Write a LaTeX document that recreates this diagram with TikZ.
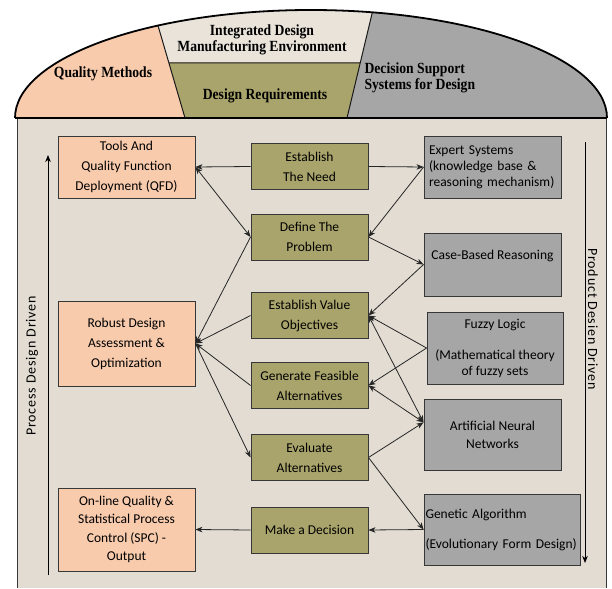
\documentclass[tikz,border=0pt]{standalone}
\usepackage{fontspec}
\setmainfont{Carlito}
\newfontfamily\domefont[FakeStretch=0.88]{Liberation Serif}
\newfontfamily\sidefont[LetterSpace=6]{Carlito}
\usepackage{xcolor}
\usetikzlibrary{arrows.meta}

\definecolor{qpeach}{RGB}{248,203,173}
\definecolor{dolive}{RGB}{169,164,107}
\definecolor{sgray}{RGB}{166,166,166}
\definecolor{panelbg}{RGB}{226,220,210}
\definecolor{idmebg}{RGB}{233,227,218}
\definecolor{edge}{RGB}{55,55,55}

\begin{document}
\begin{tikzpicture}[x=1pt, y=-1pt, >={Stealth[length=7pt, width=5.5pt, inset=2pt]},
    box/.style={draw=edge, line width=0.9pt, inner sep=0pt, align=center,
                font=\fontsize{13.5}{20}\selectfont},
    qbox/.style={box, fill=qpeach, minimum width=137pt},
    dbox/.style={box, fill=dolive, minimum width=117pt, minimum height=46pt},
    sbox/.style={box, fill=sgray},
    link/.style={->, draw=black!85, line width=0.8pt},
    dometext/.style={font=\domefont\bfseries\fontsize{15.5}{16.5}\selectfont, align=center},
    sidetext/.style={font=\sidefont\fontsize{14}{16}\selectfont}]
      \useasboundingbox (0,0) rectangle (612,588);
      % panel
      \fill [panelbg] (17,118) rectangle (606,588);
      \draw [edge, line width=1pt] (17,588) -- (17,118) -- (606,118) -- (606,588);
      % dome
      \begin{scope}
        \clip (0,0) rectangle (612,118);
        \clip (311,118) ellipse [x radius=296, y radius=108];
        \fill [qpeach] (0,0) -- (150.5,0) -- (185,118) -- (0,118) -- cycle;
        \fill [idmebg] (150.5,0) -- (375.3,0) -- (360,63) -- (169,63) -- cycle;
        \fill [dolive] (169,63) -- (360,63) -- (347,118) -- (185,118) -- cycle;
        \fill [sgray] (375.3,0) -- (612,0) -- (612,118) -- (347,118) -- cycle;
        \draw [black!90, line width=1pt] (150.5,0) -- (185,118) (375.3,0) -- (347,118) (169,63) -- (360,63);
      \end{scope}
      \begin{scope}
        \clip (0,0) rectangle (612,118);
        \draw [black, line width=1.8pt] (311,118) ellipse [x radius=296, y radius=108];
      \end{scope}
      \draw [black, line width=1.6pt] (15,118) -- (607,118);
      \node [dometext]                          (idme) at (262, 40) {Integrated Design\\Manufacturing Environment};
      \node [dometext]                            (qm) at (103, 74) {Quality Methods};
      \node [dometext]                          (dreq) at (265, 96) {Design Requirements};
      \node [dometext, anchor=west, align=left]  (dss) at (361, 78) {Decision Support\\Systems for Design};
      % quality methods
      \node [qbox, minimum height=62pt]  (qfd) at (126.5, 167.0) {Tools And\\Quality Function\\Deployment (QFD)};
      \node [qbox, minimum height=85pt]  (robust) at (126.5, 343.5) {Robust Design\\Assessment \&\\Optimization};
      \node [qbox, minimum height=83pt, font=\fontsize{13.5}{18.3}\selectfont]
                                         (spc) at (126.5, 529.5) {On-line Quality \&\\Statistical Process\\Control (SPC) -\\Output};
      % design requirements
      \node [dbox]  (need) at (309.5, 166.5) {Establish\\The Need};
      \node [dbox]  (problem) at (309.5, 237.0) {Define The\\Problem};
      \node [dbox]  (value) at (309.5, 315.5) {Establish Value\\Objectives};
      \node [dbox]  (alts) at (309.5, 385.5) {Generate Feasible\\Alternatives};
      \node [dbox]  (evaluate) at (309.5, 457.5) {Evaluate\\Alternatives};
      \node [dbox]  (decide) at (309.5, 530.0) {Make a Decision};
      % decision support
      \node [sbox, minimum width=137pt, minimum height=62pt, align=left, text width=127pt,
             font=\fontsize{13.5}{16}\selectfont]
                    (expert) at (492.5, 167.0) {Expert Systems\\(knowledge base \&\\reasoning mechanism)};
      \node [sbox, minimum width=137pt, minimum height=63pt]
                    (cbr) at (492.5, 264.5) {Case-Based Reasoning\\\mbox{}};
      \node [sbox, minimum width=136pt, minimum height=72pt, font=\fontsize{13.5}{16}\selectfont]
                    (fuzzy) at (495.0, 348.0) {Fuzzy Logic\\[15pt](Mathematical theory\\of fuzzy sets};
      \node [sbox, minimum width=137pt, minimum height=71pt, font=\fontsize{13.5}{18}\selectfont]
                    (ann) at (492.5, 434.5) {Artificial Neural\\Networks};
      \node [sbox, minimum width=156pt, minimum height=71pt, align=left, text width=153pt,
             font=\fontsize{13.5}{30}\selectfont]
                    (ga) at (502.0, 529.5) {Genetic Algorithm\\(Evolutionary Form Design)};
      % side arrows
      \coordinate (pdb) at (48, 575);
      \coordinate (pdt) at (48, 155);
      \coordinate (rdt) at (585, 142);
      \coordinate (rdb) at (585, 563);
      \draw [->, line width=0.9pt] (pdb) -- (pdt);
      \draw [->, line width=0.9pt] (rdt) -- (rdb);
      \node [sidetext, rotate=90]  (procdrv) at (32, 366) {Process Design Driven};
      \node [sidetext, rotate=-90] (proddrv) at (593, 319) {Product Desien Driven};
      % links
      \draw [link] (need.west) -- (qfd.east);
      \draw [link] (need.east) -- (expert.west);
      \draw [link, <->] (qfd.east) -- (problem.west);
      \draw [link] (expert.west) -- (problem.east);
      \draw [link] (problem.east) -- (cbr.west);
      \draw [link] (cbr.west) -- (value.east);
      \draw [link] (problem.west) -- (robust.east);
      \draw [link] (value.west) -- (robust.east);
      \draw [link] (alts.west) -- (robust.east);
      \draw [link] (robust.east) -- (evaluate.west);
      \draw [link] (fuzzy.west) -- (value.east);
      \draw [link] (fuzzy.west) -- (alts.east);
      \draw [link, <->] (value.east) -- (ann.170);
      \draw [link, <->] (alts.east) -- (ann.170);
      \draw [link] (evaluate.east) -- (ann.170);
      \draw [link] (evaluate.east) -- (ga.west);
      \draw [link] (ga.west) -- (decide.east);
      \draw [link] (decide.west) -- (spc.east);
\end{tikzpicture}
\end{document}
